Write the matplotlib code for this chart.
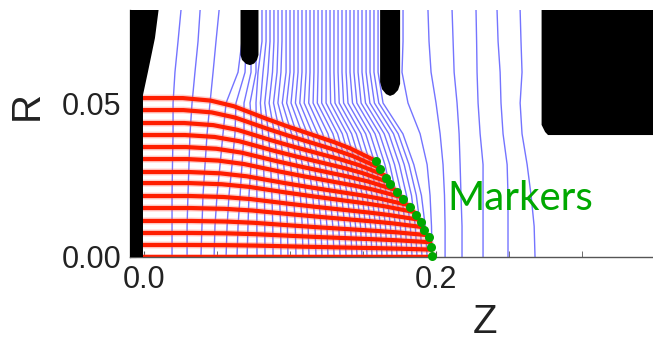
import numpy as np
import matplotlib.pyplot as plt
from matplotlib.patches import Polygon

# ---- equipotential lines (blue): Z in mm read at each radius level (mm) ----
levels_r = [0, 10, 20, 30, 40, 50, 60, 70, 80]
nan = np.nan

gap_top = [80.8, 83.6, 86.3, 89.0, 91.8, 94.5, 97.3, 100.0, 102.7, 105.5,
           108.2, 111.0, 113.7, 116.4, 119.2, 121.9, 124.7, 127.4, 130.1, 132.9,
           135.6, 138.4, 141.1, 143.8, 146.6, 149.3, 152.1, 154.8, 157.5, 160.3]

blue_r00 = [19.2, 29.5, 39.0, 48.0, 56.2, 63.7, 70.6,
            77.4, 82.9, 88.4, 93.8, 98.6, 104.1, 108.9, 113.0, 117.8, 121.9,
            126.0, 130.2, 134.3, 138.4, 142.5, 145.9, 149.3, 152.8, 156.2, 159.6,
            163.0, 166.5, 169.9, 173.3, 176.7, 180.2, 183.6, 187.0, 190.4, 193.9,
            197.3, 206.2, 217.8, 232.2, 249.3, 267.8]
blue_r10 = [19.2, 29.5, 39.7, 48.6, 56.9, 64.4, 71.2,
            77.3, 82.7, 88.2, 93.6, 98.2, 103.6, 108.4, 112.4, 117.1, 121.2,
            125.3, 129.3, 133.4, 137.5, 141.5, 144.9, 148.3, 151.7, 155.2, 158.6,
            161.9, 165.4, 168.8, 172.2, 175.6, 179.0, 182.4, 185.8, 189.2, 192.6,
            196.9, 206.2, 217.8, 232.2, 249.3, 267.2]
blue_r20 = [19.2, 30.1, 40.4, 50.0, 58.2, 65.8, 71.9,
            77.3, 82.5, 87.6, 92.8, 97.4, 102.5, 107.1, 111.0, 115.6, 119.5,
            123.6, 127.5, 131.5, 135.4, 139.3, 142.8, 146.1, 149.5, 152.8, 156.2,
            159.6, 163.0, 166.3, 169.7, 173.0, 176.5, 179.8, 183.2, 186.5, 190.0,
            195.9, 205.8, 217.1, 232.2, 249.3, 265.1]
blue_r30 = [19.5, 30.8, 41.8, 52.1, 60.3, 67.1, 73.3,
            77.2, 81.9, 86.7, 91.4, 95.7, 100.4, 104.7, 108.4, 112.7, 116.5,
            120.2, 124.1, 127.8, 131.6, 135.4, 138.6, 141.9, 145.2, 148.6, 151.9,
            155.2, 158.4, 161.7, 165.0, 168.3, 171.6, 174.9, 178.2, 181.5, 184.8,
            193.9, 204.8, 216.5, 232.2, 248.7, 262.4]
blue_r40 = [19.9, 31.5, 43.2, 54.1, 62.3, 68.5, 74.0,
            77.1, 81.2, 85.3, 89.4, 93.2, 97.3, 101.1, 104.6, 108.4, 111.9,
            115.4, 118.9, 122.4, 126.0, 129.4, 132.6, 135.8, 139.0, 142.2, 145.4,
            148.6, 151.8, 154.9, 158.2, 161.3, 164.5, 167.7, 170.9, 174.1, 177.3,
            189.1, 202.8, 215.8, 230.2, 245.9, 258.9]
blue_r50 = [19.9, 32.9, 45.2, 56.2, 63.0, 68.5, 72.6,
            76.7, 79.7, 82.7, 85.7, 88.7, 91.7, 94.7, 97.7, 100.7, 103.7,
            106.7, 109.7, 112.8, 115.8, 118.7, 121.7, 124.7, 127.8, 130.8, 133.7,
            136.7, 139.7, 142.8, 145.8, 148.7, 151.7, 154.7, 157.8, 160.8, 163.7,
            180.8, 200.0, 214.4, 228.8, 244.5, 257.6]
blue_r60 = [21.2, 34.9, 47.3, 64.4, 69.2, 73.3, 76.7,
            78.1, 81.5, 84.9, 88.0, 91.1, 93.8, 97.3, 100.0, 102.7, 105.5,
            108.2, 111.0, 113.7, 116.4, 119.2, 121.9, 124.7, 127.4, 130.1, 132.9,
            135.6, 138.4, 141.1, 143.8, 146.6, 149.3, 152.1, 154.8, 157.5, 160.3,
            176.7, 196.6, 212.4, 228.1, 243.9, 258.9]
blue_r70 = [23.3, 37.0, 49.3, 67.1, 69.9, 73.3, 76.7] + gap_top + \
           [177.4, 195.2, 211.7, 227.8, 242.5, 258.2]
blue_r80 = [25.3, 38.4, 51.4, nan, nan, nan, nan] + gap_top + \
           [177.4, 194.5, 211.0, 227.4, 241.8, 257.6]

# ---- beam trajectories (red) ----
red_r_start = [51.6, 47.7, 43.5, 39.6, 35.7, 31.8, 27.6, 24.0, 19.8, 15.9, 11.7, 7.8, 3.9, 0.0]
red_r_end = [31.2, 29.0, 26.5, 24.2, 21.8, 19.4, 16.8, 14.6, 12.1, 9.7, 7.1, 4.8, 2.4, 0.0]
red_z_end = [158.7, 161.0, 165.0, 168.0, 172.0, 176.5, 181.5, 185.0, 188.5, 191.0, 194.0, 196.0, 197.0, 197.5]
# outer trajectory profile: fraction of run vs fraction of radial drop
profile_t = [0, 0.17, 0.29, 0.39, 0.46, 0.53, 0.62, 0.70, 0.82, 0.89, 1.0]
profile_f = [0, 0, 0.04, 0.13, 0.23, 0.33, 0.45, 0.55, 0.70, 0.80, 1.0]

# ---- markers at the beam front ----
marker_z = [158.7, 161.6, 165.8, 168.7, 173.3, 177.6, 182.4, 186.1, 189.7, 191.8, 195.0, 196.6, 197.5]
marker_r = [31.2, 28.5, 25.7, 23.6, 21.2, 18.7, 16.3, 13.6, 11.3, 8.8, 6.4, 3.1, 0.3]

# ---- electrodes (mm) ----
cathode = [(-20, 0), (-0.7, 0), (-0.7, 52.6), (2.7, 60.1), (7.5, 71.1), (11.3, 85), (-20, 85)]
focus = [(66.1, 85), (66.1, 65.6), (67.1, 64.0), (69.9, 62.7), (72.6, 62.3),
         (75.4, 62.8), (77.4, 64.0), (78.4, 65.6), (78.4, 85)]
anode = [(161.7, 85), (161.7, 56.8), (163.0, 54.5), (165.8, 52.9), (168.5, 52.3),
         (171.2, 52.8), (174.0, 54.2), (175.4, 56.2), (175.4, 85)]
block = [(272.3, 85), (272.3, 42.9), (274.7, 40.6), (276.7, 39.6), (380, 39.6), (380, 85)]

fig = plt.figure(figsize=(6.53, 3.44), dpi=100)
ax = fig.add_axes([130 / 653, 87 / 344, 523 / 653, 247 / 344])

# equipotentials
table = np.array([blue_r00, blue_r10, blue_r20, blue_r30, blue_r40,
                  blue_r50, blue_r60, blue_r70, blue_r80]) / 1000
rr = np.array(levels_r) / 1000
for j in range(table.shape[1]):
    ax.plot(table[:, j], rr, color='#7474ff', lw=1.0, zorder=1)

# trajectories
pt = np.array(profile_t)
pf = np.array(profile_f)
for r0, r1, z1 in zip(red_r_start, red_r_end, red_z_end):
    z = (-0.5 + pt * (z1 + 0.5)) / 1000
    r = (r0 - (r0 - r1) * pf) / 1000
    ax.plot(z, r, color='#ff5a50', lw=5, alpha=0.3, zorder=2, solid_capstyle='round')
    ax.plot(z, r, color='#ff1e00', lw=3.0, zorder=2, solid_capstyle='round')

for shape in (cathode, focus, anode, block):
    ax.add_patch(Polygon(np.array(shape) / 1000, closed=True, fc='black', ec='none', zorder=3))

ax.plot(np.array(marker_z) / 1000, np.array(marker_r) / 1000, 'o', ms=6.5,
        color='#00a800', mec='none', zorder=5, clip_on=False)
ax.text(0.2075, 0.0151, 'Markers', fontsize=29, family='Lato', color='#00a800', va='baseline')

ax.set_xlim(-0.00959, 0.3486)
ax.set_ylim(0, 0.0802)
for s in ('top', 'right'):
    ax.spines[s].set_visible(False)
for s in ('left', 'bottom'):
    ax.spines[s].set_color('#555555')
    ax.spines[s].set_linewidth(1.0)

ax.set_xticks([0.0, 0.2])
ax.set_xticklabels(['0.0', '0.2'])
ax.set_xticks([0.05, 0.1, 0.15, 0.25, 0.3], minor=True)
ax.set_yticks([0.0, 0.05])
ax.set_yticklabels(['0.00', '0.05'])
ax.tick_params(which='both', direction='in', length=4, color='#555555',
               labelsize=22, labelcolor='#222222', pad=6)
for lab in ax.get_xticklabels() + ax.get_yticklabels():
    lab.set_family('Liberation Sans')

ax.set_xlabel('Z', fontsize=29, family='Liberation Sans', color='#222222')
ax.set_ylabel('R', fontsize=29, family='Liberation Sans', color='#222222')
ax.xaxis.set_label_coords((485 - 130) / 523, (257 - 322) / 247)
ax.xaxis.label.set_va('center')
ax.yaxis.set_label_coords((27 - 130) / 523, (257 - 105) / 247)
ax.yaxis.label.set_va('center')

fig.savefig('out.png', dpi=100)
